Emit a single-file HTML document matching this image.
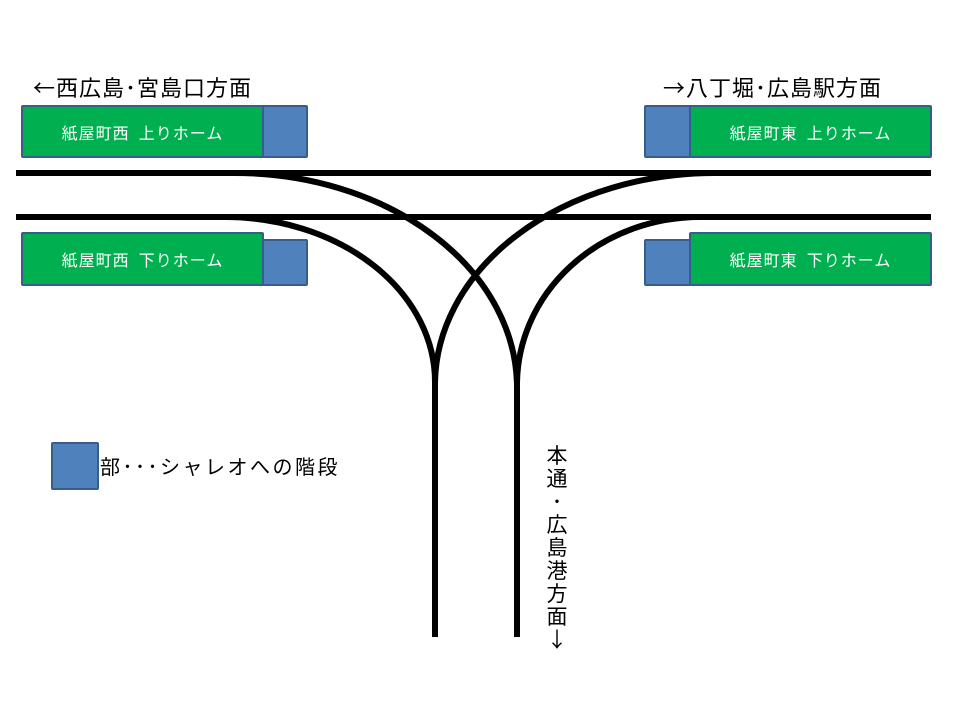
<!DOCTYPE html>
<html><head><meta charset="utf-8"><style>
body{margin:0;width:960px;height:720px;background:#fff;position:relative;overflow:hidden;font-family:"Noto Sans CJK JP","Liberation Sans",sans-serif}
.b{position:absolute;box-sizing:border-box;border:2px solid #385d8a;border-radius:2px}
.g{background:#00b050;color:#fff;font-size:16px;letter-spacing:1px;display:flex;align-items:center;justify-content:center;white-space:pre}
.u{background:#4f81bd}
.t{position:absolute;font-size:22px;line-height:26px;color:#000;white-space:nowrap;letter-spacing:1px}
.v{position:absolute;left:544px;top:444px;width:26px;font-size:21px;line-height:23px;text-align:center}
</style></head><body>
<svg width="960" height="720" style="position:absolute;left:0;top:0">
<g fill="none" stroke="#000" stroke-width="6">
<line x1="16" y1="173" x2="931" y2="173"/>
<line x1="16" y1="217" x2="931" y2="217"/>
<path d="M235,173 A282,215 0 0 1 517,388 L517,637"/>
<path d="M225,217 A210,165 0 0 1 435,382 L435,637"/>
<path d="M715,173 A280,212 0 0 0 435,385"/>
<path d="M700,217 A183,168 0 0 0 517,385"/>
</g></svg>
<div class="t" style="left:33px;top:74px">←西広島･宮島口方面</div>
<div class="t" style="left:663px;top:74px">→八丁堀･広島駅方面</div>
<div class="b u" style="left:261px;top:105px;width:47px;height:53px"></div>
<div class="b g" style="left:21px;top:105px;width:243px;height:53px">紙屋町西  上りホーム</div>
<div class="b u" style="left:261px;top:239px;width:47px;height:47px"></div>
<div class="b g" style="left:21px;top:232px;width:243px;height:54px">紙屋町西  下りホーム</div>
<div class="b u" style="left:644px;top:105px;width:48px;height:53px"></div>
<div class="b g" style="left:689px;top:105px;width:243px;height:53px">紙屋町東  上りホーム</div>
<div class="b u" style="left:644px;top:239px;width:48px;height:47px"></div>
<div class="b g" style="left:689px;top:232px;width:243px;height:54px">紙屋町東  下りホーム</div>
<div class="b u" style="left:51px;top:442px;width:48px;height:48px"></div>
<div class="t" style="left:100px;top:453px;font-size:20px;letter-spacing:2.5px">部･･･シャレオへの階段</div>
<div class="v">本<br>通<br>･<br>広<br>島<br>港<br>方<br>面<br>↓</div>
</body></html>
